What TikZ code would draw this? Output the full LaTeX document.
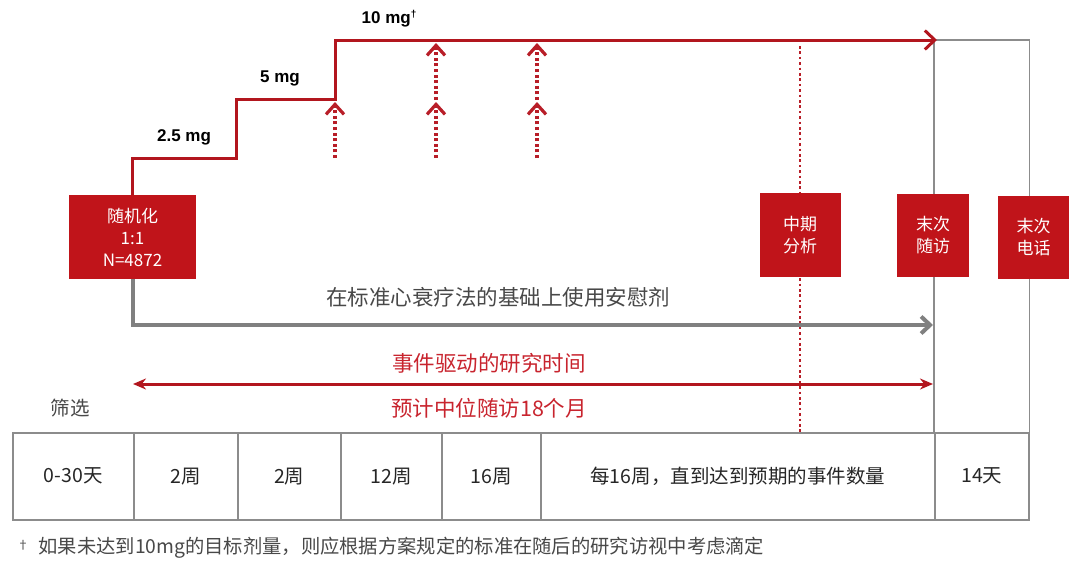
\documentclass[tikz,border=0pt]{standalone}
\usepackage{fontspec}
\setmainfont{Noto Sans CJK SC}
\newfontfamily\arialfont{Liberation Sans}
\usetikzlibrary{arrows.meta}

\definecolor{boxred}{RGB}{192,20,26}
\definecolor{linered}{RGB}{178,22,30}
\definecolor{textred}{RGB}{200,36,46}
\definecolor{dotred}{RGB}{184,30,40}
\definecolor{arrowgray}{RGB}{128,128,128}
\definecolor{framegray}{RGB}{140,140,140}
\definecolor{textgray}{RGB}{72,72,72}

\tikzset{
    redbox/.style={fill=boxred, text=white, align=center, inner sep=0pt,
        font=\fontsize{17}{22}\selectfont},
    dose/.style={font=\arialfont\bfseries\fontsize{17}{20}\selectfont},
    cell/.style={draw=framegray, line width=1.6pt, minimum height=87pt,
        inner sep=0pt, anchor=north west, text=black!85,
        font=\fontsize{19.5}{22}\selectfont},
    doseline/.style={linered, line width=3pt,
        -{Straight Barb[length=10pt,width=19pt]}},
    dotarrow/.style={dotred, line width=3.2pt, dash pattern=on 3pt off 2.6pt,
        -{Straight Barb[length=10pt,width=18pt]}},
    dotline/.style={dotred, line width=2.8pt, dash pattern=on 2.6pt off 2.8pt},
    grayarrow/.style={arrowgray, line width=4pt,
        -{Straight Barb[length=9pt,width=17pt]}},
    eventarrow/.style={linered, line width=3pt,
        {Stealth[length=13pt,width=11pt]}-{Stealth[length=13pt,width=11pt]}},
    frameline/.style={framegray, line width=1.6pt},
}

\begin{document}
\begin{tikzpicture}[x=1pt,y=-1pt]

    \useasboundingbox (0,0) rectangle (1080,571);

    \foreach \x/\w/\t [count=\i] in {12/121/0-30天, 133/104/2周, 237/103/2周,
        340/101/12周, 441/99/16周, 540/394/{每16周，直到达到预期的事件数量}, 934/94/14天}
        \node[cell, minimum width=\w*1pt] (c\i) at (\x,432) {\t};

    \coordinate (top) at (934,40);
    \draw[frameline] (c7.north west) -- (c7.north west |- top)
        -- (c7.north east |- top) -- (c7.north east);

    \coordinate (midtop) at (800,46);
    \draw[dotline] (midtop) -- (midtop |- c6.north);

    \node[redbox, minimum width=127pt, minimum height=84pt] (rand) at (132.5,237)
        {随机化\\1:1\\N=4872};
    \node[redbox, minimum width=81pt, minimum height=84pt] (mid) at (800,235)
        {中期\\分析};
    \node[redbox, minimum width=72pt, minimum height=83pt] (lastvisit) at (933,235.5)
        {末次\\随访};
    \node[redbox, minimum width=71pt, minimum height=83pt] (lastcall) at (1033.5,237.5)
        {末次\\电话};

    \coordinate (d1) at (236,158);
    \coordinate (d2) at (335,99);
    \coordinate (d3) at (937,40);
    \draw[doseline] (rand.north) |- (d1) |- (d2) |- (d3);

    \node[dose] (dose1) at (184,137) {2.5 mg};
    \node[dose] (dose2) at (280,78) {5 mg};
    \node[dose] (dose3) at (389,19) {10 mg\raisebox{6pt}{\fontsize{10}{10}\selectfont †}};

    \foreach \x [count=\i] in {335,436,537} {
        \coordinate (lo\i) at (\x,158);
        \coordinate (hi\i) at (\x,102);
        \draw[dotarrow] (lo\i) -- (hi\i);
    }
    \foreach \x [count=\i] in {436,537} {
        \coordinate (up\i) at (\x,100);
        \coordinate (tip\i) at (\x,43);
        \draw[dotarrow] (up\i) -- (tip\i);
    }

    \coordinate (placebo) at (933,325);
    \draw[grayarrow] (rand.south) |- (placebo);
    \node[text=textgray, font=\fontsize{21.5}{24}\selectfont] (bg) at (498,297)
        {在标准心衰疗法的基础上使用安慰剂};

    \coordinate (evL) at (133,384);
    \coordinate (evR) at (933,384);
    \draw[eventarrow] (evL) -- (evR);
    \node[text=textred, font=\fontsize{21.5}{24}\selectfont] (event) at (489,363)
        {事件驱动的研究时间};
    \node[text=textred, font=\fontsize{21.5}{24}\selectfont] (median) at (489,408)
        {预计中位随访18个月};

    \node[text=textgray, font=\fontsize{19.5}{22}\selectfont] (screen) at (70,408) {筛选};

    \node[text=textgray, font=\fontsize{12}{12}\selectfont] (dag) at (23,545) {†};
    \node[text=textgray, anchor=west, font=\fontsize{19.3}{22}\selectfont] (note) at (35,548)
        {如果未达到10mg的目标剂量，则应根据方案规定的标准在随后的研究访视中考虑滴定};

\end{tikzpicture}
\end{document}
